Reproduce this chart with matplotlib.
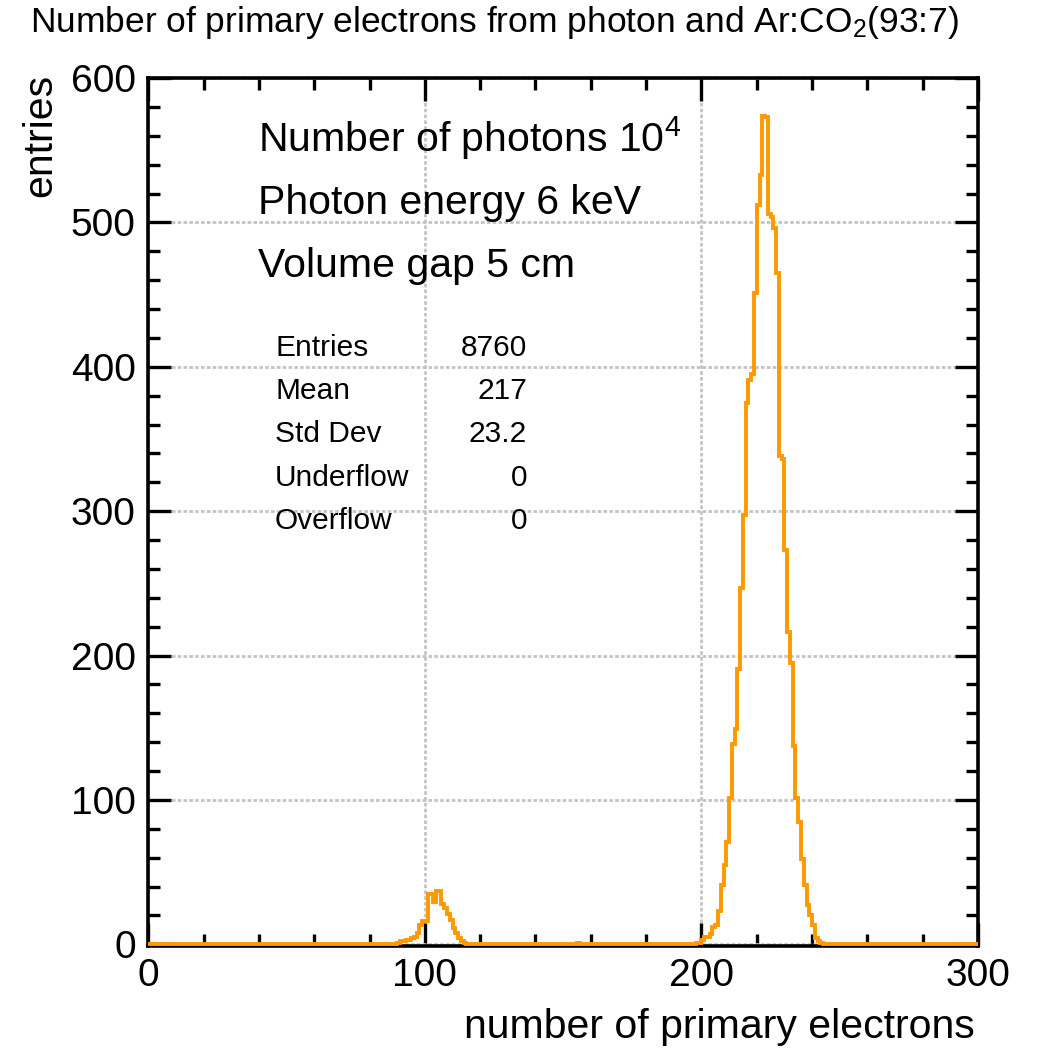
import numpy as np
import matplotlib.pyplot as plt
from matplotlib.ticker import MultipleLocator

plt.rcParams['font.family'] = ['Liberation Sans', 'DejaVu Sans']
plt.rcParams['mathtext.fontset'] = 'custom'
plt.rcParams['mathtext.rm'] = 'Liberation Sans'
plt.rcParams['mathtext.it'] = 'Liberation Sans:italic'

# histogram binning: one bin per electron, 0..300
n_bins = 300
x_min, x_max = 0, 300

# escape peak around 100 electrons (first bin = 90)
escape_start = 90
escape_counts = [1, 2, 2, 3, 3, 4, 5, 8, 13, 16, 16, 35, 35, 29, 37, 37,
                 28, 25, 21, 17, 11, 8, 4, 2, 1]

# stray entry
stray_bin = 155
stray_count = 1

# photo peak (first bin = 198)
main_start = 198
main_counts = [1, 1, 3, 5, 5, 7, 12, 13, 23, 41, 55, 71, 101, 139, 149, 191,
               247, 297, 375, 391, 395, 451, 512, 533, 574, 573, 506, 504,
               496, 465, 338, 336, 273, 216, 195, 137, 101, 85, 59, 41, 27,
               20, 13, 4, 2, 1]

stats_names = ['Entries', 'Mean', 'Std Dev', 'Underflow', 'Overflow']
stats_values = ['8760', '217', '23.2', '0', '0']

info_lines = [r'Number of photons 10$^4$', 'Photon energy 6 keV',
              'Volume gap 5 cm']

edges = np.linspace(x_min, x_max, n_bins + 1)
counts = np.zeros(n_bins)
counts[escape_start:escape_start + len(escape_counts)] = escape_counts
counts[stray_bin] = stray_count
counts[main_start:main_start + len(main_counts)] = main_counts

W, H = 1038, 1060
fig = plt.figure(figsize=(W / 100, H / 100), dpi=100)
ax = fig.add_axes([148.3 / W, 1 - 946 / H, 829.7 / W, 868 / H])

ax.stairs(counts, edges, color='#ff9900', linewidth=2.8, zorder=3)

ax.set_xlim(x_min, x_max)
ax.set_ylim(-1.2, 600)

ax.xaxis.set_major_locator(MultipleLocator(100))
ax.xaxis.set_minor_locator(MultipleLocator(20))
ax.yaxis.set_major_locator(MultipleLocator(100))
ax.yaxis.set_minor_locator(MultipleLocator(20))
ax.tick_params(which='both', direction='in', top=True, right=True,
               width=2.4, color='black', labelsize=28, pad=9)
ax.tick_params(which='major', length=16.5)
ax.tick_params(which='minor', length=8.5)

ax.grid(True, which='major', color='#c4c4c4', linestyle=(0, (1.3, 0.8)),
        linewidth=2.0, zorder=0)
ax.set_axisbelow(True)
for sp in ax.spines.values():
    sp.set_linewidth(2.6)
    sp.set_zorder(2)

# title and axis labels
fig.text(30 / W, 1 - 32 / H, r'Number of primary electrons from photon and Ar:CO$_2$(93:7)',
         fontsize=25.5, ha='left', va='baseline')
fig.text(975 / W, 1 - 1038 / H, 'number of primary electrons',
         fontsize=29.5, ha='right', va='baseline')
fig.text(40 / W, 1 - 74 / H, 'entries', fontsize=29.5, rotation=90,
         ha='center', va='top')

# info text
for i, line in enumerate(info_lines):
    fig.text(258 / W, 1 - (152 + 62.5 * i) / H, line, fontsize=29.5,
             ha='left', va='baseline')

# stats box
for i, (name, val) in enumerate(zip(stats_names, stats_values)):
    y = 1 - (356 + 43.2 * i) / H
    fig.text(275 / W, y, name, fontsize=21.5, ha='left', va='baseline')
    fig.text(527 / W, y, val, fontsize=21.5, ha='right', va='baseline')

fig.savefig('out.png', dpi=100)
